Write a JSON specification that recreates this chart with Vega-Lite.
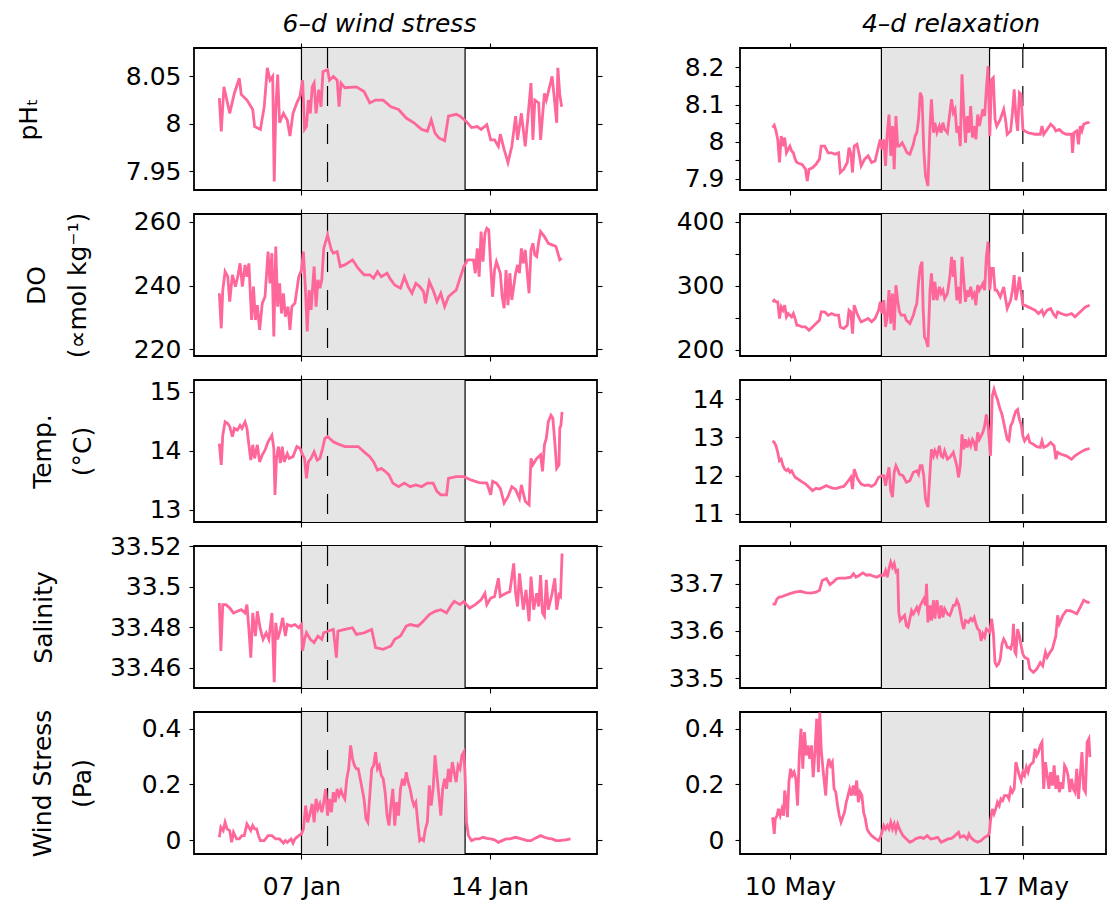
{
"$schema": "https://vega.github.io/schema/vega-lite/v6.json",
"padding": {"left": 15, "top": 11, "right": 0, "bottom": 2},
"bounds": "flush",
"columns": 2,
"spacing": {"row": 24, "column": 143},
"config": {
  "font": "DejaVu Sans",
  "view": {"stroke": "black", "strokeWidth": 1.8},
  "axis": {"domain": false, "grid": false, "ticks": true, "tickColor": "black", "tickSize": 5, "tickWidth": 1.1, "minExtent": 0,
    "labelColor": "black", "labelFont": "DejaVu Sans", "labelFontSize": 25, "labelOverlap": false, "labelFlush": false, "labelBound": false,
    "titleColor": "black", "titleFont": "DejaVu Sans", "titleFontSize": 25, "titleFontWeight": "normal"}
},
"datasets": {
  "jan_ev": [{"s": 7, "e": 13.09}],
  "jan_ln": [{"x": 7, "k": "solid"}, {"x": 13.09, "k": "solid"}, {"x": 7.97, "k": "dashed"}],
  "may_ev": [{"s": 12.75, "e": 16.0}],
  "may_ln": [{"x": 12.75, "k": "solid"}, {"x": 16.0, "k": "solid"}, {"x": 17.0, "k": "dashed"}],
  "jan_ph": [{"d":3.943,"v":8.027},{"d":4.014,"v":7.992},{"d":4.114,"v":8.039},{"d":4.329,"v":8.011},{"d":4.5,"v":8.032},{"d":4.686,"v":8.048},{"d":4.757,"v":8.031},{"d":4.971,"v":8.025},{"d":5.186,"v":8.015},{"d":5.257,"v":7.997},{"d":5.471,"v":7.994},{"d":5.614,"v":8.018},{"d":5.729,"v":8.059},{"d":5.829,"v":8.046},{"d":5.929,"v":8.05},{"d":5.986,"v":7.939},{"d":6.043,"v":8.015},{"d":6.114,"v":8.052},{"d":6.186,"v":8.001},{"d":6.329,"v":8.011},{"d":6.471,"v":8.004},{"d":6.571,"v":7.987},{"d":6.686,"v":8.011},{"d":6.829,"v":8.022},{"d":6.943,"v":8.029},{"d":7.043,"v":8.046},{"d":7.114,"v":7.994},{"d":7.186,"v":7.997},{"d":7.257,"v":8.025},{"d":7.329,"v":8.011},{"d":7.4,"v":8.039},{"d":7.471,"v":8.043},{"d":7.543,"v":8.011},{"d":7.643,"v":8.036},{"d":7.729,"v":8.018},{"d":7.8,"v":8.055},{"d":7.971,"v":8.057},{"d":8.043,"v":8.046},{"d":8.186,"v":8.05},{"d":8.329,"v":8.046},{"d":8.4,"v":8.018},{"d":8.471,"v":8.043},{"d":8.614,"v":8.038},{"d":9.043,"v":8.039},{"d":9.329,"v":8.034},{"d":9.543,"v":8.022},{"d":9.757,"v":8.025},{"d":10.043,"v":8.025},{"d":10.329,"v":8.018},{"d":10.614,"v":8.015},{"d":10.9,"v":8.006},{"d":11.186,"v":8.001},{"d":11.471,"v":7.994},{"d":11.686,"v":7.992},{"d":11.829,"v":8.004},{"d":11.971,"v":7.99},{"d":12.114,"v":7.985},{"d":12.329,"v":7.982},{"d":12.471,"v":8.008},{"d":12.757,"v":8.01},{"d":12.9,"v":8.008},{"d":13.114,"v":8.003},{"d":13.329,"v":7.996},{"d":13.543,"v":7.997},{"d":13.686,"v":7.994},{"d":13.9,"v":7.999},{"d":14.043,"v":7.983},{"d":14.186,"v":7.983},{"d":14.329,"v":7.976},{"d":14.4,"v":7.989},{"d":14.543,"v":7.973},{"d":14.686,"v":7.959},{"d":14.829,"v":7.976},{"d":14.971,"v":8.008},{"d":15.043,"v":7.983},{"d":15.186,"v":8.011},{"d":15.329,"v":7.976},{"d":15.543,"v":8.043},{"d":15.614,"v":7.983},{"d":15.686,"v":8.025},{"d":15.829,"v":8.022},{"d":15.9,"v":7.983},{"d":16.043,"v":8.032},{"d":16.114,"v":8.025},{"d":16.329,"v":8.05},{"d":16.429,"v":8.022},{"d":16.5,"v":8.001},{"d":16.543,"v":8.059},{"d":16.614,"v":8.031},{"d":16.686,"v":8.018}],
  "jan_do": [{"d":3.943,"v":237.6},{"d":4.014,"v":226.6},{"d":4.071,"v":238.6},{"d":4.157,"v":244.4},{"d":4.257,"v":242.8},{"d":4.329,"v":235.0},{"d":4.429,"v":243.4},{"d":4.543,"v":239.7},{"d":4.643,"v":243.4},{"d":4.714,"v":247.0},{"d":4.8,"v":239.7},{"d":4.9,"v":246.5},{"d":4.971,"v":242.8},{"d":5.043,"v":247.0},{"d":5.143,"v":229.2},{"d":5.214,"v":239.7},{"d":5.286,"v":229.2},{"d":5.357,"v":233.9},{"d":5.443,"v":226.1},{"d":5.543,"v":234.5},{"d":5.643,"v":236.5},{"d":5.757,"v":250.7},{"d":5.829,"v":240.7},{"d":5.9,"v":250.2},{"d":5.971,"v":224.0},{"d":6.043,"v":252.3},{"d":6.114,"v":233.4},{"d":6.186,"v":240.7},{"d":6.257,"v":231.3},{"d":6.329,"v":237.6},{"d":6.4,"v":230.3},{"d":6.5,"v":233.4},{"d":6.571,"v":226.1},{"d":6.643,"v":233.4},{"d":6.757,"v":234.5},{"d":6.9,"v":242.8},{"d":7.0,"v":244.9},{"d":7.071,"v":250.7},{"d":7.143,"v":239.7},{"d":7.214,"v":225.6},{"d":7.286,"v":238.6},{"d":7.357,"v":232.4},{"d":7.471,"v":246.0},{"d":7.543,"v":233.4},{"d":7.614,"v":241.8},{"d":7.686,"v":239.2},{"d":7.757,"v":241.8},{"d":7.829,"v":251.7},{"d":7.971,"v":255.9},{"d":8.114,"v":251.2},{"d":8.186,"v":250.2},{"d":8.329,"v":250.7},{"d":8.443,"v":246.0},{"d":8.614,"v":246.5},{"d":8.9,"v":248.1},{"d":9.114,"v":245.4},{"d":9.329,"v":243.4},{"d":9.543,"v":243.4},{"d":9.686,"v":242.3},{"d":9.829,"v":244.4},{"d":9.971,"v":242.8},{"d":10.186,"v":243.9},{"d":10.329,"v":241.8},{"d":10.471,"v":240.2},{"d":10.686,"v":239.2},{"d":10.829,"v":242.8},{"d":10.971,"v":239.7},{"d":11.114,"v":237.6},{"d":11.257,"v":240.7},{"d":11.4,"v":239.7},{"d":11.543,"v":238.1},{"d":11.614,"v":234.5},{"d":11.757,"v":241.3},{"d":11.9,"v":238.6},{"d":12.043,"v":235.0},{"d":12.186,"v":237.6},{"d":12.329,"v":233.4},{"d":12.471,"v":236.5},{"d":12.614,"v":237.6},{"d":12.757,"v":238.6},{"d":12.9,"v":242.3},{"d":13.043,"v":246.0},{"d":13.186,"v":248.1},{"d":13.4,"v":248.1},{"d":13.471,"v":243.9},{"d":13.543,"v":251.7},{"d":13.614,"v":242.8},{"d":13.686,"v":257.0},{"d":13.757,"v":247.5},{"d":13.829,"v":256.4},{"d":13.9,"v":258.0},{"d":13.971,"v":257.5},{"d":14.043,"v":246.0},{"d":14.114,"v":236.5},{"d":14.186,"v":244.9},{"d":14.257,"v":247.5},{"d":14.4,"v":243.9},{"d":14.471,"v":236.5},{"d":14.543,"v":232.9},{"d":14.614,"v":244.9},{"d":14.686,"v":233.9},{"d":14.757,"v":243.9},{"d":14.829,"v":235.5},{"d":14.971,"v":243.9},{"d":15.043,"v":246.5},{"d":15.114,"v":243.9},{"d":15.186,"v":251.7},{"d":15.257,"v":247.0},{"d":15.329,"v":251.2},{"d":15.471,"v":237.6},{"d":15.543,"v":251.2},{"d":15.614,"v":253.3},{"d":15.686,"v":249.6},{"d":15.757,"v":249.1},{"d":15.829,"v":253.8},{"d":15.9,"v":257.0},{"d":16.043,"v":255.4},{"d":16.186,"v":253.3},{"d":16.329,"v":252.8},{"d":16.471,"v":252.3},{"d":16.543,"v":250.2},{"d":16.614,"v":248.1},{"d":16.686,"v":248.6}],
  "jan_t": [{"d":3.943,"v":14.12},{"d":4.014,"v":13.76},{"d":4.071,"v":14.26},{"d":4.157,"v":14.49},{"d":4.257,"v":14.46},{"d":4.329,"v":14.41},{"d":4.429,"v":14.24},{"d":4.5,"v":14.38},{"d":4.614,"v":14.35},{"d":4.714,"v":14.43},{"d":4.786,"v":14.38},{"d":4.9,"v":14.49},{"d":4.971,"v":14.38},{"d":5.043,"v":14.10},{"d":5.114,"v":13.84},{"d":5.186,"v":14.10},{"d":5.257,"v":13.87},{"d":5.357,"v":14.10},{"d":5.443,"v":13.81},{"d":5.543,"v":13.93},{"d":5.643,"v":14.01},{"d":5.757,"v":14.15},{"d":5.9,"v":14.26},{"d":5.971,"v":14.04},{"d":6.014,"v":13.25},{"d":6.071,"v":13.87},{"d":6.143,"v":14.07},{"d":6.214,"v":13.79},{"d":6.286,"v":14.07},{"d":6.357,"v":13.81},{"d":6.471,"v":13.95},{"d":6.543,"v":13.87},{"d":6.686,"v":13.90},{"d":6.829,"v":14.07},{"d":6.943,"v":14.04},{"d":7.043,"v":13.93},{"d":7.114,"v":13.87},{"d":7.186,"v":13.53},{"d":7.257,"v":13.81},{"d":7.357,"v":13.87},{"d":7.471,"v":13.98},{"d":7.586,"v":13.84},{"d":7.686,"v":13.87},{"d":7.786,"v":14.04},{"d":7.871,"v":14.21},{"d":7.971,"v":14.24},{"d":8.186,"v":14.15},{"d":8.329,"v":14.12},{"d":8.614,"v":14.07},{"d":8.9,"v":14.07},{"d":9.114,"v":14.07},{"d":9.329,"v":13.98},{"d":9.543,"v":13.90},{"d":9.686,"v":13.81},{"d":9.829,"v":13.67},{"d":9.971,"v":13.70},{"d":10.114,"v":13.65},{"d":10.257,"v":13.59},{"d":10.4,"v":13.45},{"d":10.614,"v":13.39},{"d":10.829,"v":13.45},{"d":11.043,"v":13.39},{"d":11.257,"v":13.42},{"d":11.471,"v":13.39},{"d":11.686,"v":13.45},{"d":11.9,"v":13.45},{"d":12.043,"v":13.31},{"d":12.186,"v":13.25},{"d":12.4,"v":13.25},{"d":12.471,"v":13.53},{"d":12.757,"v":13.56},{"d":13.043,"v":13.56},{"d":13.329,"v":13.50},{"d":13.614,"v":13.46},{"d":13.9,"v":13.45},{"d":14.043,"v":13.25},{"d":14.114,"v":13.48},{"d":14.257,"v":13.45},{"d":14.4,"v":13.36},{"d":14.543,"v":13.11},{"d":14.686,"v":13.22},{"d":14.829,"v":13.39},{"d":14.971,"v":13.34},{"d":15.114,"v":13.19},{"d":15.186,"v":13.42},{"d":15.329,"v":13.14},{"d":15.471,"v":13.08},{"d":15.543,"v":13.87},{"d":15.614,"v":13.76},{"d":15.757,"v":13.87},{"d":15.9,"v":13.93},{"d":15.971,"v":13.65},{"d":16.043,"v":14.10},{"d":16.114,"v":14.21},{"d":16.186,"v":14.49},{"d":16.286,"v":14.60},{"d":16.357,"v":14.55},{"d":16.429,"v":14.15},{"d":16.5,"v":13.70},{"d":16.586,"v":13.76},{"d":16.614,"v":14.38},{"d":16.657,"v":14.43},{"d":16.7,"v":14.66}],
  "jan_s": [{"d":3.943,"v":33.4919},{"d":4.0,"v":33.4683},{"d":4.071,"v":33.4911},{"d":4.186,"v":33.4911},{"d":4.329,"v":33.4894},{"d":4.471,"v":33.487},{"d":4.614,"v":33.4878},{"d":4.757,"v":33.4886},{"d":4.9,"v":33.487},{"d":4.971,"v":33.4911},{"d":5.043,"v":33.4789},{"d":5.114,"v":33.465},{"d":5.186,"v":33.487},{"d":5.286,"v":33.4756},{"d":5.357,"v":33.4878},{"d":5.471,"v":33.4789},{"d":5.571,"v":33.474},{"d":5.686,"v":33.4772},{"d":5.786,"v":33.474},{"d":5.9,"v":33.487},{"d":5.986,"v":33.4528},{"d":6.043,"v":33.4821},{"d":6.114,"v":33.474},{"d":6.214,"v":33.4789},{"d":6.3,"v":33.4846},{"d":6.4,"v":33.4756},{"d":6.471,"v":33.4813},{"d":6.614,"v":33.4805},{"d":6.757,"v":33.4813},{"d":6.9,"v":33.4797},{"d":7.0,"v":33.4813},{"d":7.043,"v":33.4683},{"d":7.114,"v":33.474},{"d":7.186,"v":33.4772},{"d":7.329,"v":33.474},{"d":7.471,"v":33.4724},{"d":7.614,"v":33.4756},{"d":7.757,"v":33.474},{"d":7.829,"v":33.4772},{"d":7.971,"v":33.478},{"d":8.186,"v":33.4789},{"d":8.3,"v":33.465},{"d":8.357,"v":33.478},{"d":8.614,"v":33.4789},{"d":8.9,"v":33.4797},{"d":9.043,"v":33.4764},{"d":9.329,"v":33.4772},{"d":9.614,"v":33.4789},{"d":9.757,"v":33.4699},{"d":10.043,"v":33.4691},{"d":10.329,"v":33.4707},{"d":10.471,"v":33.474},{"d":10.686,"v":33.4756},{"d":10.9,"v":33.4805},{"d":11.043,"v":33.4813},{"d":11.329,"v":33.4805},{"d":11.471,"v":33.4821},{"d":11.757,"v":33.4862},{"d":11.971,"v":33.4878},{"d":12.186,"v":33.4886},{"d":12.4,"v":33.487},{"d":12.543,"v":33.4902},{"d":12.686,"v":33.4927},{"d":12.9,"v":33.4911},{"d":13.043,"v":33.4927},{"d":13.257,"v":33.4894},{"d":13.471,"v":33.4911},{"d":13.686,"v":33.4935},{"d":13.829,"v":33.4967},{"d":13.9,"v":33.4911},{"d":14.043,"v":33.4943},{"d":14.186,"v":33.4951},{"d":14.329,"v":33.5041},{"d":14.4,"v":33.4951},{"d":14.614,"v":33.4967},{"d":14.757,"v":33.4976},{"d":14.9,"v":33.5114},{"d":14.971,"v":33.4967},{"d":15.043,"v":33.4902},{"d":15.114,"v":33.5065},{"d":15.257,"v":33.4886},{"d":15.357,"v":33.4984},{"d":15.471,"v":33.4829},{"d":15.543,"v":33.5049},{"d":15.643,"v":33.4886},{"d":15.757,"v":33.4967},{"d":15.829,"v":33.4902},{"d":15.9,"v":33.5057},{"d":15.971,"v":33.487},{"d":16.043,"v":33.4854},{"d":16.114,"v":33.5033},{"d":16.186,"v":33.4886},{"d":16.329,"v":33.4967},{"d":16.429,"v":33.5041},{"d":16.5,"v":33.4886},{"d":16.586,"v":33.4959},{"d":16.643,"v":33.4951},{"d":16.7,"v":33.5163}],
  "jan_w": [{"d":3.943,"v":0.010},{"d":4.0,"v":0.046},{"d":4.086,"v":0.034},{"d":4.157,"v":0.064},{"d":4.229,"v":0.040},{"d":4.329,"v":0.034},{"d":4.4,"v":-0.008},{"d":4.471,"v":0.028},{"d":4.586,"v":0.004},{"d":4.686,"v":0.004},{"d":4.786,"v":0.016},{"d":4.871,"v":0.016},{"d":4.971,"v":0.058},{"d":5.043,"v":0.046},{"d":5.114,"v":0.034},{"d":5.186,"v":0.052},{"d":5.257,"v":0.040},{"d":5.329,"v":0.040},{"d":5.4,"v":0.016},{"d":5.471,"v":-0.002},{"d":5.614,"v":-0.002},{"d":5.757,"v":0.016},{"d":5.9,"v":0.016},{"d":6.043,"v":0.004},{"d":6.186,"v":0.004},{"d":6.329,"v":-0.011},{"d":6.4,"v":-0.002},{"d":6.471,"v":-0.008},{"d":6.614,"v":0.004},{"d":6.686,"v":-0.011},{"d":6.757,"v":0.004},{"d":6.9,"v":0.016},{"d":7.0,"v":0.022},{"d":7.071,"v":0.040},{"d":7.157,"v":0.124},{"d":7.229,"v":0.064},{"d":7.3,"v":0.088},{"d":7.4,"v":0.130},{"d":7.471,"v":0.064},{"d":7.543,"v":0.148},{"d":7.614,"v":0.112},{"d":7.686,"v":0.130},{"d":7.757,"v":0.100},{"d":7.829,"v":0.136},{"d":7.9,"v":0.184},{"d":7.971,"v":0.088},{"d":8.043,"v":0.148},{"d":8.114,"v":0.100},{"d":8.186,"v":0.172},{"d":8.257,"v":0.136},{"d":8.329,"v":0.184},{"d":8.4,"v":0.160},{"d":8.471,"v":0.178},{"d":8.543,"v":0.160},{"d":8.614,"v":0.148},{"d":8.686,"v":0.220},{"d":8.757,"v":0.256},{"d":8.829,"v":0.340},{"d":8.9,"v":0.292},{"d":8.971,"v":0.268},{"d":9.043,"v":0.256},{"d":9.114,"v":0.256},{"d":9.186,"v":0.220},{"d":9.257,"v":0.184},{"d":9.329,"v":0.148},{"d":9.4,"v":0.076},{"d":9.471,"v":0.064},{"d":9.543,"v":0.160},{"d":9.614,"v":0.256},{"d":9.686,"v":0.268},{"d":9.757,"v":0.316},{"d":9.829,"v":0.256},{"d":9.9,"v":0.268},{"d":9.971,"v":0.232},{"d":10.043,"v":0.220},{"d":10.114,"v":0.172},{"d":10.186,"v":0.088},{"d":10.257,"v":0.052},{"d":10.329,"v":0.124},{"d":10.4,"v":0.184},{"d":10.471,"v":0.052},{"d":10.543,"v":0.136},{"d":10.614,"v":0.088},{"d":10.686,"v":0.184},{"d":10.757,"v":0.220},{"d":10.829,"v":0.196},{"d":10.9,"v":0.244},{"d":10.971,"v":0.208},{"d":11.043,"v":0.184},{"d":11.114,"v":0.148},{"d":11.186,"v":0.124},{"d":11.257,"v":0.136},{"d":11.329,"v":0.064},{"d":11.4,"v":-0.002},{"d":11.471,"v":0.004},{"d":11.543,"v":-0.002},{"d":11.614,"v":0.040},{"d":11.686,"v":0.064},{"d":11.757,"v":0.196},{"d":11.829,"v":0.124},{"d":11.9,"v":0.184},{"d":11.971,"v":0.304},{"d":12.043,"v":0.232},{"d":12.114,"v":0.160},{"d":12.186,"v":0.088},{"d":12.257,"v":0.184},{"d":12.329,"v":0.220},{"d":12.4,"v":0.184},{"d":12.471,"v":0.256},{"d":12.543,"v":0.208},{"d":12.614,"v":0.280},{"d":12.686,"v":0.244},{"d":12.757,"v":0.208},{"d":12.829,"v":0.268},{"d":12.9,"v":0.256},{"d":12.971,"v":0.304},{"d":13.043,"v":0.316},{"d":13.086,"v":0.244},{"d":13.143,"v":0.064},{"d":13.214,"v":0.016},{"d":13.329,"v":-0.002},{"d":13.471,"v":0.004},{"d":13.614,"v":0.004},{"d":13.757,"v":0.010},{"d":13.9,"v":0.006},{"d":14.043,"v":0.004},{"d":14.186,"v":0.001},{"d":14.329,"v":-0.008},{"d":14.471,"v":-0.002},{"d":14.614,"v":0.004},{"d":14.757,"v":0.004},{"d":14.971,"v":0.010},{"d":15.186,"v":0.004},{"d":15.4,"v":-0.002},{"d":15.543,"v":-0.002},{"d":15.686,"v":0.006},{"d":15.9,"v":0.016},{"d":16.043,"v":0.010},{"d":16.186,"v":0.006},{"d":16.329,"v":0.004},{"d":16.471,"v":-0.002},{"d":16.614,"v":-0.002},{"d":16.829,"v":0.001},{"d":17.014,"v":0.004}],
  "may_ph": [{"d":9.478,"v":8.038},{"d":9.53,"v":8.044},{"d":9.582,"v":8.029},{"d":9.634,"v":8.006},{"d":9.687,"v":7.944},{"d":9.739,"v":8.015},{"d":9.791,"v":7.988},{"d":9.843,"v":8.011},{"d":9.896,"v":7.97},{"d":9.948,"v":7.979},{"d":10.0,"v":7.988},{"d":10.052,"v":7.975},{"d":10.104,"v":7.97},{"d":10.157,"v":7.953},{"d":10.209,"v":7.944},{"d":10.261,"v":7.942},{"d":10.366,"v":7.939},{"d":10.47,"v":7.926},{"d":10.522,"v":7.894},{"d":10.575,"v":7.926},{"d":10.679,"v":7.93},{"d":10.784,"v":7.939},{"d":10.888,"v":7.953},{"d":10.94,"v":7.988},{"d":11.045,"v":7.988},{"d":11.149,"v":7.97},{"d":11.254,"v":7.97},{"d":11.358,"v":7.966},{"d":11.463,"v":7.97},{"d":11.515,"v":7.917},{"d":11.62,"v":7.926},{"d":11.724,"v":7.944},{"d":11.776,"v":7.984},{"d":11.829,"v":7.97},{"d":11.881,"v":7.917},{"d":11.933,"v":7.988},{"d":12.017,"v":7.993},{"d":12.09,"v":7.962},{"d":12.142,"v":7.935},{"d":12.247,"v":7.953},{"d":12.351,"v":7.962},{"d":12.456,"v":7.944},{"d":12.56,"v":7.948},{"d":12.665,"v":7.988},{"d":12.717,"v":8.006},{"d":12.769,"v":7.979},{"d":12.821,"v":8.006},{"d":12.874,"v":7.935},{"d":12.926,"v":8.024},{"d":12.978,"v":8.073},{"d":13.03,"v":7.962},{"d":13.083,"v":8.042},{"d":13.135,"v":7.926},{"d":13.187,"v":8.069},{"d":13.239,"v":7.988},{"d":13.292,"v":7.988},{"d":13.375,"v":7.997},{"d":13.448,"v":7.984},{"d":13.521,"v":7.97},{"d":13.605,"v":7.966},{"d":13.71,"v":7.993},{"d":13.762,"v":8.015},{"d":13.814,"v":8.024},{"d":13.866,"v":8.06},{"d":13.918,"v":8.132},{"d":13.971,"v":8.118},{"d":14.023,"v":7.979},{"d":14.075,"v":7.908},{"d":14.148,"v":7.881},{"d":14.211,"v":8.042},{"d":14.253,"v":8.114},{"d":14.316,"v":8.024},{"d":14.357,"v":8.051},{"d":14.42,"v":8.024},{"d":14.493,"v":8.042},{"d":14.545,"v":8.024},{"d":14.598,"v":8.051},{"d":14.65,"v":8.033},{"d":14.734,"v":8.024},{"d":14.807,"v":8.078},{"d":14.859,"v":8.114},{"d":14.911,"v":8.078},{"d":14.963,"v":8.087},{"d":15.016,"v":8.024},{"d":15.068,"v":8.042},{"d":15.12,"v":7.988},{"d":15.172,"v":8.181},{"d":15.225,"v":8.078},{"d":15.277,"v":7.997},{"d":15.329,"v":8.069},{"d":15.381,"v":8.024},{"d":15.434,"v":8.096},{"d":15.486,"v":8.011},{"d":15.538,"v":8.042},{"d":15.59,"v":8.006},{"d":15.643,"v":8.073},{"d":15.695,"v":8.042},{"d":15.799,"v":8.087},{"d":15.852,"v":8.069},{"d":15.904,"v":8.141},{"d":15.956,"v":8.203},{"d":16.008,"v":8.015},{"d":16.061,"v":8.167},{"d":16.113,"v":8.172},{"d":16.165,"v":8.06},{"d":16.217,"v":8.042},{"d":16.322,"v":8.06},{"d":16.426,"v":8.087},{"d":16.479,"v":8.06},{"d":16.531,"v":8.02},{"d":16.635,"v":8.029},{"d":16.688,"v":8.078},{"d":16.74,"v":8.141},{"d":16.792,"v":8.069},{"d":16.844,"v":8.029},{"d":16.897,"v":8.132},{"d":16.949,"v":8.127},{"d":17.001,"v":8.033},{"d":17.053,"v":8.029},{"d":17.158,"v":8.024},{"d":17.367,"v":8.02},{"d":17.524,"v":8.02},{"d":17.576,"v":8.042},{"d":17.628,"v":8.02},{"d":17.732,"v":8.033},{"d":17.837,"v":8.047},{"d":17.941,"v":8.038},{"d":17.994,"v":8.029},{"d":18.098,"v":8.033},{"d":18.203,"v":8.024},{"d":18.307,"v":8.02},{"d":18.464,"v":8.02},{"d":18.495,"v":7.97},{"d":18.537,"v":8.024},{"d":18.621,"v":8.029},{"d":18.673,"v":7.993},{"d":18.725,"v":8.042},{"d":18.777,"v":8.029},{"d":18.83,"v":8.047},{"d":18.934,"v":8.051},{"d":19.007,"v":8.051}],
  "may_do": [{"d":9.478,"v":275.0},{"d":9.53,"v":277.6},{"d":9.582,"v":275.0},{"d":9.634,"v":275.0},{"d":9.687,"v":249.0},{"d":9.739,"v":267.2},{"d":9.791,"v":262.0},{"d":9.843,"v":269.8},{"d":9.896,"v":251.6},{"d":9.948,"v":256.8},{"d":10.0,"v":254.2},{"d":10.052,"v":251.6},{"d":10.104,"v":256.8},{"d":10.157,"v":249.0},{"d":10.209,"v":238.5},{"d":10.261,"v":238.5},{"d":10.366,"v":235.9},{"d":10.47,"v":235.9},{"d":10.575,"v":230.7},{"d":10.679,"v":235.9},{"d":10.784,"v":241.1},{"d":10.888,"v":246.4},{"d":10.94,"v":259.4},{"d":11.045,"v":259.4},{"d":11.149,"v":254.2},{"d":11.254,"v":256.8},{"d":11.358,"v":254.2},{"d":11.463,"v":254.2},{"d":11.515,"v":235.9},{"d":11.62,"v":233.3},{"d":11.724,"v":238.5},{"d":11.776,"v":262.0},{"d":11.829,"v":259.4},{"d":11.881,"v":225.5},{"d":11.933,"v":269.8},{"d":12.017,"v":256.8},{"d":12.09,"v":249.0},{"d":12.142,"v":243.8},{"d":12.247,"v":246.4},{"d":12.351,"v":249.0},{"d":12.456,"v":243.8},{"d":12.56,"v":249.0},{"d":12.665,"v":262.0},{"d":12.717,"v":275.0},{"d":12.769,"v":256.8},{"d":12.821,"v":277.6},{"d":12.874,"v":235.9},{"d":12.926,"v":251.6},{"d":12.978,"v":293.2},{"d":13.03,"v":241.1},{"d":13.083,"v":288.0},{"d":13.135,"v":230.7},{"d":13.187,"v":301.0},{"d":13.239,"v":277.6},{"d":13.292,"v":259.4},{"d":13.344,"v":254.2},{"d":13.448,"v":254.2},{"d":13.5,"v":246.4},{"d":13.605,"v":241.1},{"d":13.71,"v":254.2},{"d":13.762,"v":264.6},{"d":13.814,"v":272.4},{"d":13.866,"v":306.3},{"d":13.918,"v":329.7},{"d":13.971,"v":337.5},{"d":14.002,"v":267.2},{"d":14.044,"v":220.3},{"d":14.096,"v":215.1},{"d":14.148,"v":204.7},{"d":14.211,"v":293.2},{"d":14.253,"v":319.3},{"d":14.316,"v":277.6},{"d":14.357,"v":306.3},{"d":14.42,"v":277.6},{"d":14.493,"v":298.4},{"d":14.545,"v":288.0},{"d":14.598,"v":293.2},{"d":14.65,"v":280.2},{"d":14.734,"v":288.0},{"d":14.807,"v":314.1},{"d":14.859,"v":345.3},{"d":14.911,"v":314.1},{"d":14.942,"v":340.1},{"d":15.016,"v":277.6},{"d":15.068,"v":298.4},{"d":15.12,"v":272.4},{"d":15.172,"v":345.3},{"d":15.225,"v":308.9},{"d":15.277,"v":275.0},{"d":15.329,"v":293.2},{"d":15.381,"v":282.8},{"d":15.434,"v":298.4},{"d":15.486,"v":282.8},{"d":15.538,"v":288.0},{"d":15.59,"v":269.8},{"d":15.643,"v":301.0},{"d":15.695,"v":293.2},{"d":15.799,"v":303.6},{"d":15.852,"v":293.2},{"d":15.904,"v":345.3},{"d":15.956,"v":368.8},{"d":16.008,"v":293.2},{"d":16.061,"v":327.1},{"d":16.113,"v":327.1},{"d":16.165,"v":293.2},{"d":16.217,"v":293.2},{"d":16.322,"v":282.8},{"d":16.426,"v":298.4},{"d":16.479,"v":280.2},{"d":16.531,"v":264.6},{"d":16.635,"v":277.6},{"d":16.688,"v":293.2},{"d":16.74,"v":316.7},{"d":16.792,"v":277.6},{"d":16.844,"v":293.2},{"d":16.897,"v":314.1},{"d":16.949,"v":290.6},{"d":17.001,"v":269.8},{"d":17.053,"v":269.8},{"d":17.158,"v":267.2},{"d":17.262,"v":264.6},{"d":17.367,"v":262.0},{"d":17.471,"v":256.8},{"d":17.576,"v":262.0},{"d":17.628,"v":254.2},{"d":17.732,"v":262.0},{"d":17.837,"v":264.6},{"d":17.941,"v":254.2},{"d":17.994,"v":251.6},{"d":18.046,"v":259.4},{"d":18.15,"v":256.8},{"d":18.307,"v":254.2},{"d":18.464,"v":256.8},{"d":18.568,"v":251.6},{"d":18.673,"v":256.8},{"d":18.777,"v":262.0},{"d":18.882,"v":267.2},{"d":19.007,"v":269.8}],
  "may_t": [{"d":9.478,"v":12.91},{"d":9.53,"v":12.87},{"d":9.582,"v":12.78},{"d":9.634,"v":12.61},{"d":9.687,"v":12.39},{"d":9.739,"v":12.43},{"d":9.791,"v":12.26},{"d":9.843,"v":12.17},{"d":9.896,"v":12.13},{"d":9.948,"v":12.17},{"d":10.0,"v":12.09},{"d":10.052,"v":12.13},{"d":10.104,"v":12.04},{"d":10.157,"v":11.96},{"d":10.261,"v":11.90},{"d":10.366,"v":11.84},{"d":10.47,"v":11.78},{"d":10.575,"v":11.70},{"d":10.679,"v":11.61},{"d":10.784,"v":11.67},{"d":10.888,"v":11.65},{"d":10.993,"v":11.70},{"d":11.097,"v":11.74},{"d":11.202,"v":11.70},{"d":11.306,"v":11.67},{"d":11.411,"v":11.67},{"d":11.515,"v":11.70},{"d":11.62,"v":11.72},{"d":11.724,"v":11.83},{"d":11.829,"v":11.96},{"d":11.881,"v":11.65},{"d":11.933,"v":12.17},{"d":12.038,"v":11.91},{"d":12.142,"v":11.78},{"d":12.247,"v":11.74},{"d":12.351,"v":11.76},{"d":12.456,"v":11.72},{"d":12.56,"v":11.78},{"d":12.665,"v":11.96},{"d":12.769,"v":12.00},{"d":12.821,"v":12.00},{"d":12.874,"v":11.74},{"d":12.926,"v":12.00},{"d":12.978,"v":12.22},{"d":13.03,"v":11.61},{"d":13.083,"v":11.44},{"d":13.135,"v":12.09},{"d":13.187,"v":12.26},{"d":13.239,"v":12.17},{"d":13.292,"v":12.04},{"d":13.396,"v":12.00},{"d":13.5,"v":11.83},{"d":13.605,"v":11.87},{"d":13.71,"v":12.09},{"d":13.814,"v":12.13},{"d":13.866,"v":12.04},{"d":13.918,"v":12.26},{"d":13.971,"v":12.26},{"d":14.023,"v":12.00},{"d":14.075,"v":11.39},{"d":14.148,"v":11.18},{"d":14.211,"v":12.09},{"d":14.253,"v":12.69},{"d":14.316,"v":12.52},{"d":14.357,"v":12.65},{"d":14.42,"v":12.52},{"d":14.493,"v":12.78},{"d":14.545,"v":12.52},{"d":14.598,"v":12.48},{"d":14.65,"v":12.65},{"d":14.734,"v":12.43},{"d":14.807,"v":12.48},{"d":14.911,"v":12.61},{"d":15.016,"v":12.26},{"d":15.068,"v":11.96},{"d":15.12,"v":12.26},{"d":15.172,"v":13.08},{"d":15.225,"v":12.69},{"d":15.277,"v":12.95},{"d":15.329,"v":12.74},{"d":15.381,"v":12.91},{"d":15.434,"v":12.78},{"d":15.486,"v":12.95},{"d":15.538,"v":12.87},{"d":15.59,"v":12.65},{"d":15.643,"v":13.13},{"d":15.695,"v":12.95},{"d":15.799,"v":13.13},{"d":15.852,"v":13.30},{"d":15.904,"v":13.60},{"d":15.956,"v":13.30},{"d":16.029,"v":12.52},{"d":16.082,"v":14.08},{"d":16.134,"v":14.26},{"d":16.196,"v":14.08},{"d":16.238,"v":13.99},{"d":16.301,"v":13.78},{"d":16.374,"v":13.60},{"d":16.447,"v":13.30},{"d":16.531,"v":12.95},{"d":16.583,"v":12.91},{"d":16.635,"v":13.30},{"d":16.688,"v":13.39},{"d":16.74,"v":13.56},{"d":16.792,"v":13.69},{"d":16.844,"v":13.73},{"d":16.897,"v":13.47},{"d":16.949,"v":13.34},{"d":17.001,"v":13.04},{"d":17.053,"v":12.91},{"d":17.158,"v":13.04},{"d":17.21,"v":12.87},{"d":17.315,"v":12.82},{"d":17.419,"v":12.76},{"d":17.524,"v":12.74},{"d":17.576,"v":12.91},{"d":17.628,"v":12.74},{"d":17.732,"v":12.78},{"d":17.837,"v":12.87},{"d":17.941,"v":12.78},{"d":17.994,"v":12.43},{"d":18.046,"v":12.61},{"d":18.15,"v":12.56},{"d":18.307,"v":12.52},{"d":18.464,"v":12.43},{"d":18.568,"v":12.52},{"d":18.725,"v":12.61},{"d":18.882,"v":12.68},{"d":19.007,"v":12.71}],
  "may_s": [{"d":9.478,"v":33.657},{"d":9.551,"v":33.657},{"d":9.613,"v":33.668},{"d":9.687,"v":33.672},{"d":9.739,"v":33.672},{"d":9.843,"v":33.675},{"d":10.0,"v":33.679},{"d":10.157,"v":33.682},{"d":10.313,"v":33.684},{"d":10.47,"v":33.681},{"d":10.627,"v":33.68},{"d":10.784,"v":33.682},{"d":10.888,"v":33.686},{"d":10.972,"v":33.707},{"d":11.097,"v":33.711},{"d":11.202,"v":33.698},{"d":11.306,"v":33.704},{"d":11.411,"v":33.711},{"d":11.515,"v":33.712},{"d":11.672,"v":33.712},{"d":11.829,"v":33.714},{"d":11.912,"v":33.721},{"d":11.985,"v":33.714},{"d":12.09,"v":33.718},{"d":12.194,"v":33.723},{"d":12.299,"v":33.718},{"d":12.403,"v":33.719},{"d":12.508,"v":33.716},{"d":12.612,"v":33.714},{"d":12.717,"v":33.718},{"d":12.821,"v":33.718},{"d":12.874,"v":33.728},{"d":12.926,"v":33.714},{"d":12.978,"v":33.732},{"d":13.03,"v":33.746},{"d":13.083,"v":33.735},{"d":13.135,"v":33.743},{"d":13.187,"v":33.725},{"d":13.239,"v":33.728},{"d":13.271,"v":33.64},{"d":13.313,"v":33.622},{"d":13.396,"v":33.629},{"d":13.448,"v":33.633},{"d":13.5,"v":33.611},{"d":13.553,"v":33.608},{"d":13.657,"v":33.643},{"d":13.71,"v":33.636},{"d":13.814,"v":33.65},{"d":13.866,"v":33.64},{"d":13.918,"v":33.654},{"d":14.023,"v":33.668},{"d":14.075,"v":33.654},{"d":14.106,"v":33.7},{"d":14.148,"v":33.618},{"d":14.211,"v":33.654},{"d":14.253,"v":33.622},{"d":14.316,"v":33.665},{"d":14.357,"v":33.626},{"d":14.42,"v":33.665},{"d":14.493,"v":33.626},{"d":14.545,"v":33.654},{"d":14.598,"v":33.629},{"d":14.65,"v":33.647},{"d":14.734,"v":33.636},{"d":14.807,"v":33.633},{"d":14.859,"v":33.643},{"d":14.911,"v":33.654},{"d":14.963,"v":33.654},{"d":15.016,"v":33.665},{"d":15.068,"v":33.657},{"d":15.12,"v":33.64},{"d":15.172,"v":33.618},{"d":15.225,"v":33.604},{"d":15.277,"v":33.622},{"d":15.361,"v":33.618},{"d":15.434,"v":33.626},{"d":15.486,"v":33.622},{"d":15.538,"v":33.629},{"d":15.59,"v":33.615},{"d":15.643,"v":33.604},{"d":15.695,"v":33.601},{"d":15.747,"v":33.579},{"d":15.799,"v":33.594},{"d":15.852,"v":33.587},{"d":15.904,"v":33.604},{"d":15.956,"v":33.601},{"d":16.008,"v":33.597},{"d":16.061,"v":33.626},{"d":16.113,"v":33.597},{"d":16.165,"v":33.533},{"d":16.217,"v":33.526},{"d":16.27,"v":33.53},{"d":16.322,"v":33.54},{"d":16.374,"v":33.572},{"d":16.426,"v":33.583},{"d":16.479,"v":33.576},{"d":16.531,"v":33.565},{"d":16.583,"v":33.565},{"d":16.635,"v":33.562},{"d":16.688,"v":33.576},{"d":16.719,"v":33.615},{"d":16.761,"v":33.555},{"d":16.792,"v":33.551},{"d":16.844,"v":33.604},{"d":16.897,"v":33.59},{"d":16.949,"v":33.569},{"d":17.001,"v":33.551},{"d":17.053,"v":33.544},{"d":17.158,"v":33.54},{"d":17.21,"v":33.519},{"d":17.315,"v":33.512},{"d":17.419,"v":33.519},{"d":17.524,"v":33.533},{"d":17.597,"v":33.526},{"d":17.68,"v":33.555},{"d":17.732,"v":33.544},{"d":17.785,"v":33.551},{"d":17.889,"v":33.562},{"d":17.994,"v":33.59},{"d":18.046,"v":33.633},{"d":18.098,"v":33.615},{"d":18.203,"v":33.633},{"d":18.307,"v":33.643},{"d":18.412,"v":33.643},{"d":18.516,"v":33.64},{"d":18.621,"v":33.636},{"d":18.725,"v":33.65},{"d":18.83,"v":33.665},{"d":18.934,"v":33.661},{"d":19.007,"v":33.66}],
  "may_w": [{"d":9.478,"v":0.082},{"d":9.53,"v":0.022},{"d":9.561,"v":0.076},{"d":9.613,"v":0.088},{"d":9.655,"v":0.112},{"d":9.707,"v":0.088},{"d":9.76,"v":0.112},{"d":9.812,"v":0.088},{"d":9.843,"v":0.178},{"d":9.896,"v":0.136},{"d":9.927,"v":0.082},{"d":9.969,"v":0.208},{"d":10.021,"v":0.256},{"d":10.073,"v":0.232},{"d":10.125,"v":0.244},{"d":10.178,"v":0.220},{"d":10.23,"v":0.124},{"d":10.282,"v":0.304},{"d":10.334,"v":0.400},{"d":10.387,"v":0.256},{"d":10.439,"v":0.388},{"d":10.491,"v":0.304},{"d":10.543,"v":0.340},{"d":10.596,"v":0.292},{"d":10.648,"v":0.340},{"d":10.7,"v":0.226},{"d":10.752,"v":0.316},{"d":10.805,"v":0.436},{"d":10.857,"v":0.244},{"d":10.899,"v":0.458},{"d":10.94,"v":0.328},{"d":10.993,"v":0.256},{"d":11.045,"v":0.196},{"d":11.076,"v":0.160},{"d":11.118,"v":0.256},{"d":11.17,"v":0.292},{"d":11.223,"v":0.268},{"d":11.275,"v":0.280},{"d":11.327,"v":0.184},{"d":11.379,"v":0.172},{"d":11.432,"v":0.124},{"d":11.484,"v":0.088},{"d":11.536,"v":0.064},{"d":11.588,"v":0.082},{"d":11.641,"v":0.100},{"d":11.693,"v":0.136},{"d":11.745,"v":0.160},{"d":11.797,"v":0.184},{"d":11.85,"v":0.160},{"d":11.902,"v":0.196},{"d":11.954,"v":0.160},{"d":12.006,"v":0.214},{"d":12.059,"v":0.136},{"d":12.111,"v":0.172},{"d":12.163,"v":0.160},{"d":12.215,"v":0.100},{"d":12.268,"v":0.076},{"d":12.32,"v":0.040},{"d":12.372,"v":0.028},{"d":12.456,"v":0.016},{"d":12.56,"v":0.006},{"d":12.665,"v":-0.002},{"d":12.717,"v":0.010},{"d":12.769,"v":0.028},{"d":12.821,"v":0.052},{"d":12.874,"v":0.040},{"d":12.926,"v":0.052},{"d":12.978,"v":0.040},{"d":13.03,"v":0.064},{"d":13.083,"v":0.040},{"d":13.135,"v":0.058},{"d":13.187,"v":0.034},{"d":13.239,"v":0.058},{"d":13.292,"v":0.040},{"d":13.344,"v":0.028},{"d":13.396,"v":0.016},{"d":13.448,"v":0.010},{"d":13.5,"v":0.004},{"d":13.605,"v":-0.008},{"d":13.71,"v":-0.002},{"d":13.762,"v":0.004},{"d":13.814,"v":0.006},{"d":13.918,"v":0.010},{"d":14.023,"v":0.006},{"d":14.127,"v":0.016},{"d":14.232,"v":0.004},{"d":14.336,"v":0.006},{"d":14.441,"v":0.010},{"d":14.545,"v":-0.008},{"d":14.65,"v":-0.002},{"d":14.754,"v":0.004},{"d":14.859,"v":0.006},{"d":14.963,"v":0.016},{"d":15.068,"v":0.028},{"d":15.12,"v":0.010},{"d":15.225,"v":0.016},{"d":15.329,"v":0.004},{"d":15.381,"v":0.022},{"d":15.434,"v":0.010},{"d":15.538,"v":-0.002},{"d":15.643,"v":-0.008},{"d":15.747,"v":-0.002},{"d":15.852,"v":0.010},{"d":15.956,"v":0.016},{"d":15.998,"v":0.028},{"d":16.029,"v":0.070},{"d":16.082,"v":0.112},{"d":16.134,"v":0.094},{"d":16.186,"v":0.112},{"d":16.238,"v":0.136},{"d":16.291,"v":0.124},{"d":16.343,"v":0.148},{"d":16.395,"v":0.142},{"d":16.447,"v":0.160},{"d":16.531,"v":0.160},{"d":16.583,"v":0.148},{"d":16.635,"v":0.184},{"d":16.688,"v":0.172},{"d":16.74,"v":0.184},{"d":16.792,"v":0.280},{"d":16.844,"v":0.256},{"d":16.897,"v":0.232},{"d":16.949,"v":0.214},{"d":17.001,"v":0.244},{"d":17.053,"v":0.232},{"d":17.106,"v":0.262},{"d":17.158,"v":0.244},{"d":17.21,"v":0.268},{"d":17.262,"v":0.274},{"d":17.315,"v":0.280},{"d":17.367,"v":0.328},{"d":17.419,"v":0.304},{"d":17.471,"v":0.316},{"d":17.524,"v":0.340},{"d":17.576,"v":0.352},{"d":17.628,"v":0.184},{"d":17.68,"v":0.280},{"d":17.732,"v":0.232},{"d":17.785,"v":0.184},{"d":17.837,"v":0.244},{"d":17.889,"v":0.196},{"d":17.941,"v":0.268},{"d":17.994,"v":0.184},{"d":18.046,"v":0.232},{"d":18.098,"v":0.172},{"d":18.15,"v":0.208},{"d":18.203,"v":0.184},{"d":18.255,"v":0.268},{"d":18.307,"v":0.256},{"d":18.359,"v":0.232},{"d":18.412,"v":0.172},{"d":18.464,"v":0.220},{"d":18.516,"v":0.184},{"d":18.568,"v":0.172},{"d":18.621,"v":0.256},{"d":18.673,"v":0.148},{"d":18.725,"v":0.232},{"d":18.777,"v":0.316},{"d":18.83,"v":0.184},{"d":18.882,"v":0.172},{"d":18.934,"v":0.352},{"d":18.986,"v":0.364},{"d":19.017,"v":0.298}]
},
"concat": [
  {"width": 403, "height": 142,
   "title": {"text": "6–d wind stress", "fontStyle": "italic", "fontWeight": "normal", "fontSize": 25, "font": "DejaVu Sans", "color": "black", "anchor": "middle", "dx": -16, "offset": -15, "baseline": "alphabetic"},
   "layer": [
    {"data": {"name": "jan_ev"}, "mark": {"type": "rect", "color": "#e5e5e5"}, "encoding": {"x": {"field": "s", "type": "quantitative", "scale": {"domain": [3, 18], "nice": false, "zero": false}, "axis": {"orient": "top", "values": [7, 14], "labels": false, "title": null}}, "x2": {"field": "e"}}},
    {"data": {"name": "jan_ln"}, "mark": {"type": "rule", "color": "black", "strokeWidth": 1.2}, "encoding": {"x": {"field": "x", "type": "quantitative", "axis": null}, "strokeDash": {"field": "k", "type": "nominal", "scale": {"domain": ["solid", "dashed"], "range": [[1, 0], [20, 18]]}, "legend": null}}},
    {"data": {"name": "jan_ph"}, "mark": {"type": "line", "color": "#ff6699", "strokeWidth": 2.8, "clip": true}, "encoding": {"x": {"field": "d", "type": "quantitative", "axis": {"orient": "bottom", "values": [7, 14], "labels": false, "title": null}}, "y": {"field": "v", "type": "quantitative", "scale": {"domain": [7.93, 8.08], "nice": false, "zero": false}, "axis": {"orient": "left", "values": [7.95, 8, 8.05], "format": "~f", "labelPadding": 8, "title": "pHₜ", "titleX": -158, "titleY": 71, "titleAngle": -90, "titleAlign": "center", "titleBaseline": "alphabetic"}}}},
    {"data": {"name": "jan_ph"}, "mark": {"type": "point", "opacity": 0}, "encoding": {"x": {"field": "d", "type": "quantitative", "axis": null}, "y": {"field": "v", "type": "quantitative", "axis": {"orient": "right", "values": [7.95, 8, 8.05], "labels": false, "title": null}}}}
   ],
   "resolve": {"axis": {"x": "independent", "y": "independent"}}},
  {"width": 366, "height": 142,
   "title": {"text": "4–d relaxation", "fontStyle": "italic", "fontWeight": "normal", "fontSize": 25, "font": "DejaVu Sans", "color": "black", "anchor": "middle", "dx": 28, "offset": -15, "baseline": "alphabetic"},
   "layer": [
    {"data": {"name": "may_ev"}, "mark": {"type": "rect", "color": "#e5e5e5"}, "encoding": {"x": {"field": "s", "type": "quantitative", "scale": {"domain": [8.5, 19.5], "nice": false, "zero": false}, "axis": {"orient": "top", "values": [10, 17], "labels": false, "title": null}}, "x2": {"field": "e"}}},
    {"data": {"name": "may_ln"}, "mark": {"type": "rule", "color": "black", "strokeWidth": 1.2}, "encoding": {"x": {"field": "x", "type": "quantitative", "axis": null}, "strokeDash": {"field": "k", "type": "nominal", "scale": {"domain": ["solid", "dashed"], "range": [[1, 0], [20, 18]]}, "legend": null}}},
    {"data": {"name": "may_ph"}, "mark": {"type": "line", "color": "#ff6699", "strokeWidth": 2.8, "clip": true}, "encoding": {"x": {"field": "d", "type": "quantitative", "axis": {"orient": "bottom", "values": [10, 17], "labels": false, "title": null}}, "y": {"field": "v", "type": "quantitative", "scale": {"domain": [7.87, 8.252], "nice": false, "zero": false}, "axis": {"orient": "left", "values": [7.9, 7.95, 8, 8.05, 8.1, 8.15, 8.2], "format": "~f", "labelExpr": "abs(datum.value*10-round(datum.value*10)) < 0.001 ? datum.label : ''", "labelPadding": 11, "title": null}}}}
   ],
   "resolve": {"axis": {"x": "independent", "y": "independent"}}},
  {"width": 403, "height": 142,
   "layer": [
    {"data": {"name": "jan_ev"}, "mark": {"type": "rect", "color": "#e5e5e5"}, "encoding": {"x": {"field": "s", "type": "quantitative", "scale": {"domain": [3, 18], "nice": false, "zero": false}, "axis": {"orient": "top", "values": [7, 14], "labels": false, "title": null}}, "x2": {"field": "e"}}},
    {"data": {"name": "jan_ln"}, "mark": {"type": "rule", "color": "black", "strokeWidth": 1.2}, "encoding": {"x": {"field": "x", "type": "quantitative", "axis": null}, "strokeDash": {"field": "k", "type": "nominal", "scale": {"domain": ["solid", "dashed"], "range": [[1, 0], [20, 18]]}, "legend": null}}},
    {"data": {"name": "jan_do"}, "mark": {"type": "line", "color": "#ff6699", "strokeWidth": 2.8, "clip": true}, "encoding": {"x": {"field": "d", "type": "quantitative", "axis": {"orient": "bottom", "values": [7, 14], "labels": false, "title": null}}, "y": {"field": "v", "type": "quantitative", "scale": {"domain": [217.9, 262.5], "nice": false, "zero": false}, "axis": {"orient": "left", "values": [220, 240, 260], "format": "~f", "labelPadding": 8, "title": ["DO", "(∝mol kg⁻¹)"], "titleX": -150, "titleY": 71, "titleAngle": -90, "titleAlign": "center", "titleBaseline": "alphabetic", "titleLineHeight": 41}}}},
    {"data": {"name": "jan_do"}, "mark": {"type": "point", "opacity": 0}, "encoding": {"x": {"field": "d", "type": "quantitative", "axis": null}, "y": {"field": "v", "type": "quantitative", "axis": {"orient": "right", "values": [220, 240, 260], "labels": false, "title": null}}}}
   ],
   "resolve": {"axis": {"x": "independent", "y": "independent"}}},
  {"width": 366, "height": 142,
   "layer": [
    {"data": {"name": "may_ev"}, "mark": {"type": "rect", "color": "#e5e5e5"}, "encoding": {"x": {"field": "s", "type": "quantitative", "scale": {"domain": [8.5, 19.5], "nice": false, "zero": false}, "axis": {"orient": "top", "values": [10, 17], "labels": false, "title": null}}, "x2": {"field": "e"}}},
    {"data": {"name": "may_ln"}, "mark": {"type": "rule", "color": "black", "strokeWidth": 1.2}, "encoding": {"x": {"field": "x", "type": "quantitative", "axis": null}, "strokeDash": {"field": "k", "type": "nominal", "scale": {"domain": ["solid", "dashed"], "range": [[1, 0], [20, 18]]}, "legend": null}}},
    {"data": {"name": "may_do"}, "mark": {"type": "line", "color": "#ff6699", "strokeWidth": 2.8, "clip": true}, "encoding": {"x": {"field": "d", "type": "quantitative", "axis": {"orient": "bottom", "values": [10, 17], "labels": false, "title": null}}, "y": {"field": "v", "type": "quantitative", "scale": {"domain": [190.6, 412], "nice": false, "zero": false}, "axis": {"orient": "left", "values": [200, 250, 300, 350, 400], "format": "~f", "labelExpr": "datum.value % 100 == 0 ? datum.label : ''", "labelPadding": 11, "title": null}}}}
   ],
   "resolve": {"axis": {"x": "independent", "y": "independent"}}},
  {"width": 403, "height": 142,
   "layer": [
    {"data": {"name": "jan_ev"}, "mark": {"type": "rect", "color": "#e5e5e5"}, "encoding": {"x": {"field": "s", "type": "quantitative", "scale": {"domain": [3, 18], "nice": false, "zero": false}, "axis": {"orient": "top", "values": [7, 14], "labels": false, "title": null}}, "x2": {"field": "e"}}},
    {"data": {"name": "jan_ln"}, "mark": {"type": "rule", "color": "black", "strokeWidth": 1.2}, "encoding": {"x": {"field": "x", "type": "quantitative", "axis": null}, "strokeDash": {"field": "k", "type": "nominal", "scale": {"domain": ["solid", "dashed"], "range": [[1, 0], [20, 18]]}, "legend": null}}},
    {"data": {"name": "jan_t"}, "mark": {"type": "line", "color": "#ff6699", "strokeWidth": 2.8, "clip": true}, "encoding": {"x": {"field": "d", "type": "quantitative", "axis": {"orient": "bottom", "values": [7, 14], "labels": false, "title": null}}, "y": {"field": "v", "type": "quantitative", "scale": {"domain": [12.79, 15.2], "nice": false, "zero": false}, "axis": {"orient": "left", "values": [13, 14, 15], "format": "~f", "labelPadding": 8, "title": ["Temp.", "(°C)"], "titleX": -144, "titleY": 71, "titleAngle": -90, "titleAlign": "center", "titleBaseline": "alphabetic", "titleLineHeight": 40}}}},
    {"data": {"name": "jan_t"}, "mark": {"type": "point", "opacity": 0}, "encoding": {"x": {"field": "d", "type": "quantitative", "axis": null}, "y": {"field": "v", "type": "quantitative", "axis": {"orient": "right", "values": [13, 14, 15], "labels": false, "title": null}}}}
   ],
   "resolve": {"axis": {"x": "independent", "y": "independent"}}},
  {"width": 366, "height": 142,
   "layer": [
    {"data": {"name": "may_ev"}, "mark": {"type": "rect", "color": "#e5e5e5"}, "encoding": {"x": {"field": "s", "type": "quantitative", "scale": {"domain": [8.5, 19.5], "nice": false, "zero": false}, "axis": {"orient": "top", "values": [10, 17], "labels": false, "title": null}}, "x2": {"field": "e"}}},
    {"data": {"name": "may_ln"}, "mark": {"type": "rule", "color": "black", "strokeWidth": 1.2}, "encoding": {"x": {"field": "x", "type": "quantitative", "axis": null}, "strokeDash": {"field": "k", "type": "nominal", "scale": {"domain": ["solid", "dashed"], "range": [[1, 0], [20, 18]]}, "legend": null}}},
    {"data": {"name": "may_t"}, "mark": {"type": "line", "color": "#ff6699", "strokeWidth": 2.8, "clip": true}, "encoding": {"x": {"field": "d", "type": "quantitative", "axis": {"orient": "bottom", "values": [10, 17], "labels": false, "title": null}}, "y": {"field": "v", "type": "quantitative", "scale": {"domain": [10.79, 14.5], "nice": false, "zero": false}, "axis": {"orient": "left", "values": [11, 12, 13, 14], "format": "~f", "labelPadding": 11, "title": null}}}}
   ],
   "resolve": {"axis": {"x": "independent", "y": "independent"}}},
  {"width": 403, "height": 142,
   "layer": [
    {"data": {"name": "jan_ev"}, "mark": {"type": "rect", "color": "#e5e5e5"}, "encoding": {"x": {"field": "s", "type": "quantitative", "scale": {"domain": [3, 18], "nice": false, "zero": false}, "axis": {"orient": "top", "values": [7, 14], "labels": false, "title": null}}, "x2": {"field": "e"}}},
    {"data": {"name": "jan_ln"}, "mark": {"type": "rule", "color": "black", "strokeWidth": 1.2}, "encoding": {"x": {"field": "x", "type": "quantitative", "axis": null}, "strokeDash": {"field": "k", "type": "nominal", "scale": {"domain": ["solid", "dashed"], "range": [[1, 0], [20, 18]]}, "legend": null}}},
    {"data": {"name": "jan_s"}, "mark": {"type": "line", "color": "#ff6699", "strokeWidth": 2.8, "clip": true}, "encoding": {"x": {"field": "d", "type": "quantitative", "axis": {"orient": "bottom", "values": [7, 14], "labels": false, "title": null}}, "y": {"field": "v", "type": "quantitative", "scale": {"domain": [33.45, 33.52], "nice": false, "zero": false}, "axis": {"orient": "left", "values": [33.46, 33.48, 33.5, 33.52], "format": "~f", "labelPadding": 8, "title": "Salinity", "titleX": -143, "titleY": 71, "titleAngle": -90, "titleAlign": "center", "titleBaseline": "alphabetic"}}}},
    {"data": {"name": "jan_s"}, "mark": {"type": "point", "opacity": 0}, "encoding": {"x": {"field": "d", "type": "quantitative", "axis": null}, "y": {"field": "v", "type": "quantitative", "axis": {"orient": "right", "values": [33.46, 33.48, 33.5, 33.52], "labels": false, "title": null}}}}
   ],
   "resolve": {"axis": {"x": "independent", "y": "independent"}}},
  {"width": 366, "height": 142,
   "layer": [
    {"data": {"name": "may_ev"}, "mark": {"type": "rect", "color": "#e5e5e5"}, "encoding": {"x": {"field": "s", "type": "quantitative", "scale": {"domain": [8.5, 19.5], "nice": false, "zero": false}, "axis": {"orient": "top", "values": [10, 17], "labels": false, "title": null}}, "x2": {"field": "e"}}},
    {"data": {"name": "may_ln"}, "mark": {"type": "rule", "color": "black", "strokeWidth": 1.2}, "encoding": {"x": {"field": "x", "type": "quantitative", "axis": null}, "strokeDash": {"field": "k", "type": "nominal", "scale": {"domain": ["solid", "dashed"], "range": [[1, 0], [20, 18]]}, "legend": null}}},
    {"data": {"name": "may_s"}, "mark": {"type": "line", "color": "#ff6699", "strokeWidth": 2.8, "clip": true}, "encoding": {"x": {"field": "d", "type": "quantitative", "axis": {"orient": "bottom", "values": [10, 17], "labels": false, "title": null}}, "y": {"field": "v", "type": "quantitative", "scale": {"domain": [33.479, 33.78], "nice": false, "zero": false}, "axis": {"orient": "left", "values": [33.5, 33.55, 33.6, 33.65, 33.7, 33.75], "format": "~f", "labelExpr": "abs(datum.value*10-round(datum.value*10)) < 0.001 ? datum.label : ''", "labelPadding": 11, "title": null}}}}
   ],
   "resolve": {"axis": {"x": "independent", "y": "independent"}}},
  {"width": 403, "height": 142,
   "layer": [
    {"data": {"name": "jan_ev"}, "mark": {"type": "rect", "color": "#e5e5e5"}, "encoding": {"x": {"field": "s", "type": "quantitative", "scale": {"domain": [3, 18], "nice": false, "zero": false}, "axis": {"orient": "top", "values": [7, 14], "labels": false, "title": null}}, "x2": {"field": "e"}}},
    {"data": {"name": "jan_ln"}, "mark": {"type": "rule", "color": "black", "strokeWidth": 1.2}, "encoding": {"x": {"field": "x", "type": "quantitative", "axis": null}, "strokeDash": {"field": "k", "type": "nominal", "scale": {"domain": ["solid", "dashed"], "range": [[1, 0], [20, 18]]}, "legend": null}}},
    {"data": {"name": "jan_w"}, "mark": {"type": "line", "color": "#ff6699", "strokeWidth": 2.8, "clip": true}, "encoding": {"x": {"field": "d", "type": "quantitative", "axis": {"orient": "bottom", "values": [7, 14], "labels": true, "labelExpr": "format(datum.value, '02d') + ' Jan'", "labelPadding": 15, "title": null}}, "y": {"field": "v", "type": "quantitative", "scale": {"domain": [-0.05, 0.46], "nice": false, "zero": false}, "axis": {"orient": "left", "values": [0, 0.2, 0.4], "format": "~f", "labelPadding": 8, "title": ["Wind Stress", "(Pa)"], "titleX": -144, "titleY": 71, "titleAngle": -90, "titleAlign": "center", "titleBaseline": "alphabetic", "titleLineHeight": 40}}}},
    {"data": {"name": "jan_w"}, "mark": {"type": "point", "opacity": 0}, "encoding": {"x": {"field": "d", "type": "quantitative", "axis": null}, "y": {"field": "v", "type": "quantitative", "axis": {"orient": "right", "values": [0, 0.2, 0.4], "labels": false, "title": null}}}}
   ],
   "resolve": {"axis": {"x": "independent", "y": "independent"}}},
  {"width": 366, "height": 142,
   "layer": [
    {"data": {"name": "may_ev"}, "mark": {"type": "rect", "color": "#e5e5e5"}, "encoding": {"x": {"field": "s", "type": "quantitative", "scale": {"domain": [8.5, 19.5], "nice": false, "zero": false}, "axis": {"orient": "top", "values": [10, 17], "labels": false, "title": null}}, "x2": {"field": "e"}}},
    {"data": {"name": "may_ln"}, "mark": {"type": "rule", "color": "black", "strokeWidth": 1.2}, "encoding": {"x": {"field": "x", "type": "quantitative", "axis": null}, "strokeDash": {"field": "k", "type": "nominal", "scale": {"domain": ["solid", "dashed"], "range": [[1, 0], [20, 18]]}, "legend": null}}},
    {"data": {"name": "may_w"}, "mark": {"type": "line", "color": "#ff6699", "strokeWidth": 2.8, "clip": true}, "encoding": {"x": {"field": "d", "type": "quantitative", "axis": {"orient": "bottom", "values": [10, 17], "labels": true, "labelExpr": "format(datum.value, '02d') + ' May'", "labelPadding": 15, "title": null}}, "y": {"field": "v", "type": "quantitative", "scale": {"domain": [-0.05, 0.46], "nice": false, "zero": false}, "axis": {"orient": "left", "values": [0, 0.2, 0.4], "format": "~f", "labelPadding": 11, "title": null}}}}
   ],
   "resolve": {"axis": {"x": "independent", "y": "independent"}}}
]
}
